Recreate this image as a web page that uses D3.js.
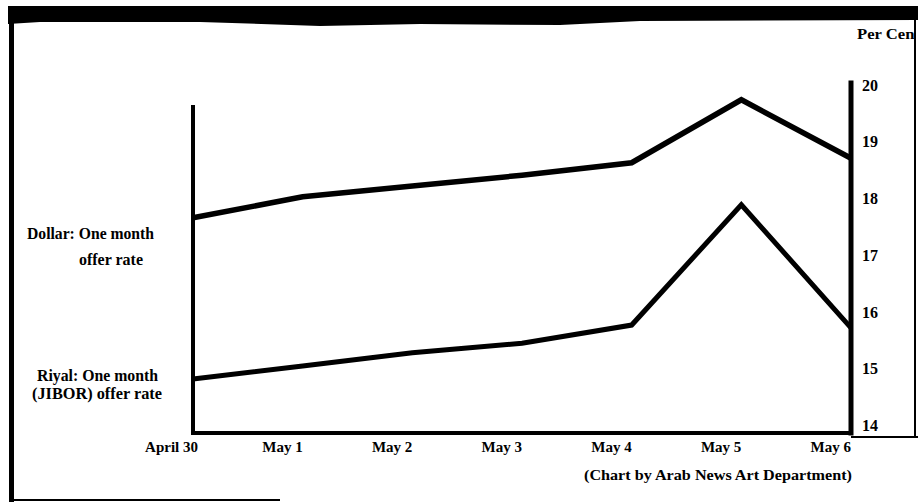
<!DOCTYPE html>
<html><head><meta charset="utf-8">
<script src="https://cdn.jsdelivr.net/npm/d3@7/dist/d3.min.js"></script>
<style>
html,body{margin:0;padding:0;background:#fff;}
svg{display:block;}
text{font-family:"Liberation Serif","Times New Roman",serif;font-weight:bold;fill:#000;}
</style></head>
<body>
<script>
// ---- data ----
const categories = ["April 30", "May 1", "May 2", "May 3", "May 4", "May 5", "May 6"];
const dollarRate = [17.66, 18.03, 18.22, 18.41, 18.63, 19.74, 18.71];
const riyalRate  = [14.82, 15.05, 15.28, 15.45, 15.77, 17.89, 15.72];
const yTicks = [14, 15, 16, 17, 18, 19, 20];
const seriesLabels = [
  ["Dollar: One month", "offer rate"],
  ["Riyal: One month", "(JIBOR) offer rate"]
];
const unitLabel = "Per Cent";
const creditText = "(Chart by Arab News Art Department)";

const W = 918, H = 504;
const svg = d3.select("body").append("svg").attr("width", W).attr("height", H);

const x = d3.scalePoint().domain(categories).range([193, 851]);
const y = d3.scaleLinear().domain([14, 20]).range([425.5, 85]);

// ---- outer frame (scanned newspaper box) ----
svg.append("path")
  .attr("d", "M8,6 L918,6 L918,20 L640,21 L560,25 L420,24 L320,26 L200,22 L40,22 L8,24 Z")
  .attr("fill", "#000");
svg.append("rect").attr("x", 9).attr("y", 6).attr("width", 5).attr("height", 496).attr("fill", "#000");
svg.append("line").attr("x1", 10).attr("x2", 280).attr("y1", 500).attr("y2", 500)
  .attr("stroke", "#000").attr("stroke-width", 2);
svg.append("line").attr("x1", 915).attr("x2", 915).attr("y1", 20).attr("y2", 438)
  .attr("stroke", "#000").attr("stroke-width", 2);
svg.append("line").attr("x1", 851).attr("x2", 918).attr("y1", 437).attr("y2", 437)
  .attr("stroke", "#000").attr("stroke-width", 2);

// ---- plot frame ----
const frame = svg.append("g").attr("stroke", "#000").attr("fill", "none").attr("stroke-linecap", "square");
frame.append("line").attr("x1", x(categories[0])).attr("x2", x(categories[0]))
  .attr("y1", 107).attr("y2", 433).attr("stroke-width", 4);
frame.append("line").attr("x1", x(categories[6])).attr("x2", x(categories[6]))
  .attr("y1", 83).attr("y2", 433).attr("stroke-width", 5);
frame.append("line").attr("x1", x(categories[0])).attr("x2", x(categories[6]))
  .attr("y1", 433).attr("y2", 433).attr("stroke-width", 4);

// ---- right axis labels ----
const yAxis = d3.axisRight(y).tickValues(yTicks).tickSize(0).tickPadding(11).tickFormat(d3.format("d"));
const ya = svg.append("g").attr("transform", `translate(${x(categories[6])},0)`).call(yAxis);
ya.select(".domain").remove();
ya.selectAll("text").style("font-size", "16px").attr("font-family", null).attr("fill", "#000");

// ---- x labels ----
svg.append("g").selectAll("text").data(categories).join("text")
  .attr("x", d => x(d) + (d === categories[0] ? 5 : 0))
  .attr("y", 452)
  .attr("text-anchor", "end")
  .style("font-size", "15px")
  .text(d => d);

// ---- lines ----
const line = d3.line().x((d, i) => x(categories[i])).y(d => y(d));
svg.append("path").datum(dollarRate).attr("d", line)
  .attr("fill", "none").attr("stroke", "#000").attr("stroke-width", 5.5)
  .attr("stroke-linejoin", "miter");
svg.append("path").datum(riyalRate).attr("d", line)
  .attr("fill", "none").attr("stroke", "#000").attr("stroke-width", 5)
  .attr("stroke-linejoin", "miter");

// ---- series labels ----
const sl = svg.append("g").style("font-size", "16px");
sl.append("text").attr("x", 27).attr("y", 239).attr("textLength", 127).attr("lengthAdjust", "spacingAndGlyphs").text(seriesLabels[0][0]);
sl.append("text").attr("x", 79).attr("y", 265).attr("textLength", 64).attr("lengthAdjust", "spacingAndGlyphs").text(seriesLabels[0][1]);
sl.append("text").attr("x", 37).attr("y", 381).attr("textLength", 121).attr("lengthAdjust", "spacingAndGlyphs").text(seriesLabels[1][0]);
sl.append("text").attr("x", 32).attr("y", 399).attr("textLength", 130).attr("lengthAdjust", "spacingAndGlyphs").text(seriesLabels[1][1]);

// ---- unit label (clipped by the frame) ----
svg.append("clipPath").attr("id", "uclip").append("rect").attr("x", 850).attr("y", 20).attr("width", 64).attr("height", 40);
svg.append("text").attr("clip-path", "url(#uclip)").attr("x", 857).attr("y", 39)
  .attr("textLength", 63).attr("lengthAdjust", "spacingAndGlyphs")
  .style("font-size", "14px").text(unitLabel);

// ---- credit ----
svg.append("text").attr("x", 852).attr("y", 480).attr("text-anchor", "end")
  .attr("textLength", 268).attr("lengthAdjust", "spacingAndGlyphs")
  .style("font-size", "14px").text(creditText);
</script>
</body></html>
